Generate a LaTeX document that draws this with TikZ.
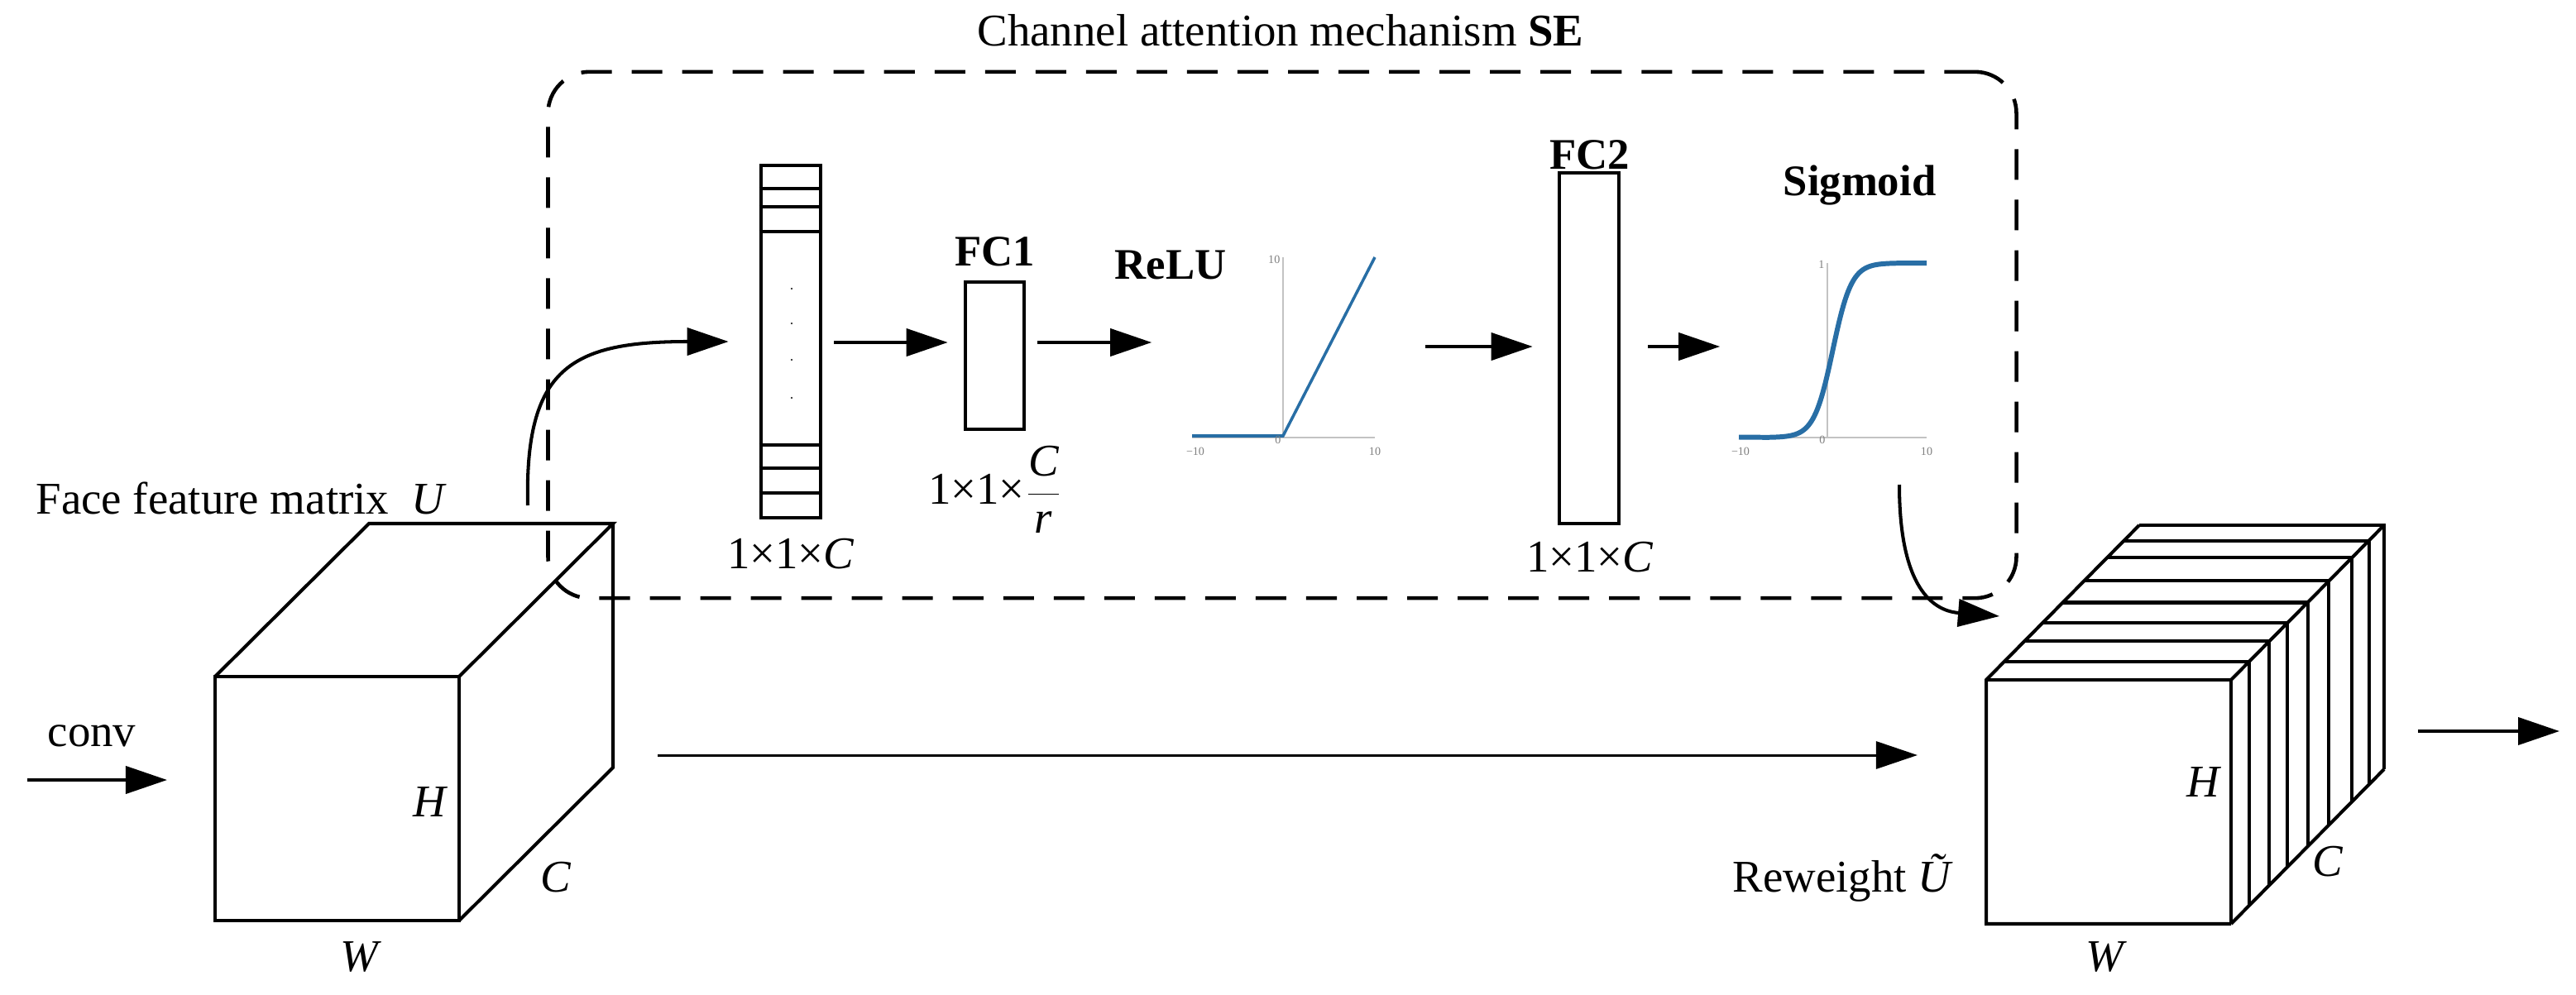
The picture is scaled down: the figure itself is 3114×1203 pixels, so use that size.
\documentclass[tikz,border=0pt]{standalone}
\usepackage{fontspec}
\setmainfont{Liberation Serif}
\usetikzlibrary{arrows.meta,calc}
\definecolor{plotblue}{RGB}{40,110,165}
\definecolor{axisgray}{RGB}{195,195,195}
\begin{document}
\begin{tikzpicture}[x=0.01cm,y=-0.01cm,
  every node/.style={font=\fontsize{15.6pt}{18pt}\selectfont, inner sep=0pt},
  edge/.style={line width=1.15pt, line join=miter},
  arr/.style={line width=1.15pt, -{Triangle[length=0.5cm,width=0.33cm]}},
  thinarr/.style={line width=0.85pt, -{Triangle[length=0.5cm,width=0.33cm]}},
  blk/.style={draw, line width=1.3pt},
  sebox/.style={draw, dash pattern=on 0.37cm off 0.24cm, line width=1.3pt, rounded corners=0.5cm},
  tick/.style={font=\fontsize{4pt}{4.5pt}\selectfont, text=gray},
  lbl/.style={font=\fontsize{15pt}{18pt}\selectfont\bfseries},
  axis/.style={axisgray, line width=0.5pt},
  itl/.style={font=\fontsize{15.6pt}{18pt}\selectfont\itshape},
]
\useasboundingbox (0,0) rectangle (3114,1203);
\fill[white] (0,0) rectangle (3114,1203);

% ---------- left cube U ----------
\coordinate (LA) at (260,818);
\coordinate (LB) at (555,818);
\coordinate (LC) at (555,1113);
\coordinate (LD) at (260,1113);
\coordinate (LE) at (446,633);
\coordinate (LF) at (741,633);
\coordinate (LG) at (741,928);
\draw[edge] (LA) rectangle (LC);
\draw[edge] (LA) -- (LE) -- (LF) -- (LB);
\draw[edge] (LF) -- (LG) -- (LC);
\node[itl] (lH) at (519,970) {H};
\node[itl] (lC) at (672,1061) {C};
\node[itl] (lW) at (434,1157) {W};
\node[anchor=base west] (ulabel) at (43,621) {Face feature matrix\enspace\textit{U}};
\node[anchor=base] (conv) at (111,902) {conv};
\coordinate (cin) at (33,943);
\draw[arr, shorten >=0.58cm] (cin) -- (cin -| LD);

% ---------- SE box ----------
\node[sebox, minimum width=17.74cm, minimum height=6.36cm] (se) at (1550,405) {};
\node[anchor=base] (title) at (1548,55) {Channel attention mechanism \textbf{SE}};

% ---------- column vector ----------
\node[blk, minimum width=0.72cm, minimum height=4.26cm] (col) at (956,413) {};
\foreach \yy in {228,250,280,538,566,596}
  \draw[line width=1.3pt] (col.west |- 0,\yy) -- (col.east |- 0,\yy);
\foreach \yy in {349,391,435,481}
  \fill (957,\yy) circle (0.012cm);
\node (cold) at (956,670) {1×1×\textit{C}};

\coordinate (uout) at (638,611);
\draw[arr, shorten >=0.37cm] (uout) .. controls (634,445) and (690,413) .. (col.west);

% ---------- FC1 ----------
\coordinate (ay) at (0,414);
\node[blk, minimum width=0.71cm, minimum height=1.78cm] (fc1) at (1202.5,430) {};
\node[lbl] (fc1l) at (1203,304) {FC1};
\node (fc1d) at (1203,592) {1×1×$\displaystyle\frac{\textit{C}}{\textit{r}}$};
\draw[arr, shorten <=0.14cm, shorten >=0.19cm] (col.east |- ay) -- (fc1.west |- ay);

% ---------- ReLU ----------
\node[minimum width=2.21cm, minimum height=2.18cm] (relu) at (1551.5,420) {};
\node[lbl] (relul) at (1415,320) {ReLU};
\draw[axis] (1551,311) -- (1551,529);
\draw[axis, line width=0.8pt] (1441,529) -- (1662,529);
\draw[plotblue, line width=1pt] (1441,527) -- (1551,527) -- (1662,311);
\node[tick, anchor=east] at (1548,314) {10};
\node[tick, anchor=east] at (1549,532) {0};
\node[tick] at (1445,546) {−10};
\node[tick] at (1662,546) {10};
\draw[arr, shorten <=0.14cm, shorten >=0.48cm] (fc1.east |- ay) -- (relu.west |- ay);

% ---------- FC2 ----------
\node[blk, minimum width=0.72cm, minimum height=4.24cm] (fc2) at (1921,421) {};
\node[lbl] (fc2l) at (1922,187) {FC2};
\node (fc2d) at (1922,674) {1×1×\textit{C}};
\coordinate (by) at (0,419);
\draw[arr, shorten <=0.60cm, shorten >=0.30cm] (relu.east |- by) -- (fc2.west |- by);

% ---------- Sigmoid ----------
\node[minimum width=2.27cm, minimum height=2.11cm] (sig) at (2215.5,423.5) {};
\node[lbl] (sigl) at (2248,224) {Sigmoid};
\draw[axis] (2209,318) -- (2209,529);
\draw[axis, line width=0.8pt] (2102,529) -- (2329,529);
\draw[plotblue, line width=1.7pt, line join=round]
  (2102,528.5) -- plot[domain=-7:7, samples=90, smooth] ({2215.5+11.35*\x},{529-211/(1+exp(-\x))}) -- (2329,318.2);
\node[tick, anchor=east] at (2206,320) {1};
\node[tick, anchor=east] at (2207,532) {0};
\node[tick] at (2104,546) {−10};
\node[tick] at (2329,546) {10};
\draw[arr, shorten <=0.33cm, shorten >=0.22cm] (fc2.east |- by) -- (sig.west |- by);

% ---------- right cube (reweighted) ----------
\coordinate (RA) at (2401,822);
\coordinate (RC) at (2697,1117);
\coordinate (RG) at (2882,930);
\foreach \t in {0,0.12,0.25,0.37,0.5,0.64,0.79,0.9,1}
  \draw[edge] ({2401+185*\t},{822-187*\t}) -- ({2697+185*\t},{822-187*\t}) -- ({2697+185*\t},{1117-187*\t});
\draw[edge] (RC) -- (2401,1117) -- (RA) -- (2586,635);
\draw[edge] (2697,822) -- (2882,635);
\draw[edge] (RC) -- (RG);
\node[itl] (rH) at (2663,946) {H};
\node[itl] (rC) at (2814,1042) {C};
\node[itl] (rW) at (2544,1157) {W};
\node[anchor=base east] (rlabel) at (2362,1078) {Reweight \textit{Ũ}};

% ---------- connectors ----------
\coordinate (sgout) at (2296,586);
\coordinate (rin) at (2417,745);
\draw[arr] (sgout) .. controls (2296,700) and (2330,738) .. (rin);

\coordinate (ymid) at (0,913);
\draw[thinarr, shorten <=0.54cm, shorten >=0.83cm] (LG |- ymid) -- (RA |- ymid);

\coordinate (outR) at (3094,884);
\draw[arr, shorten <=0.41cm] (RG |- outR) -- (outR);
\end{tikzpicture}
\end{document}
